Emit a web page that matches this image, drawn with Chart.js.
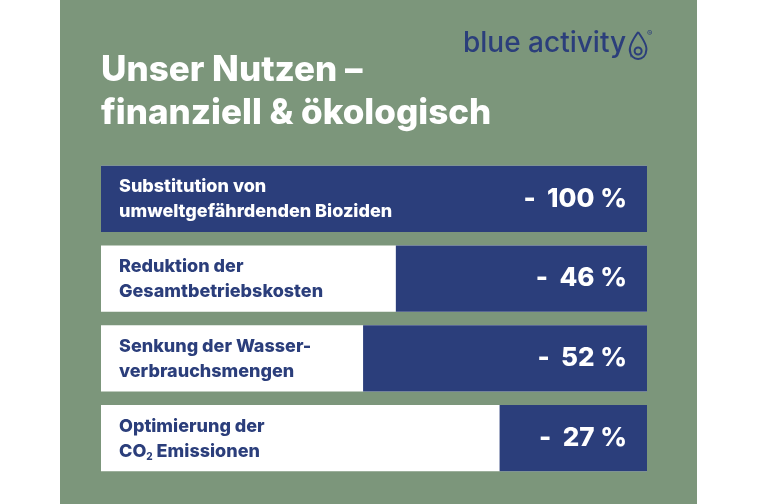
<!DOCTYPE html>
<html>
<head>
<meta charset="utf-8">
<script src="https://cdn.jsdelivr.net/npm/chart.js@4"></script>
<style>
  body { margin: 0; background: #fff; }
  #panel { position: absolute; left: 60px; top: 0; width: 637px; height: 504px; background: #7c967b; }
  #wrap { position: absolute; left: 0; top: 0; width: 760px; height: 504px; }
</style>
</head>
<body>
<div id="panel"></div>
<div id="wrap"><canvas id="chart" width="760" height="504"></canvas></div>
<script>
'use strict';

var categories = [
  ['Substitution von', 'umweltgefährdenden Bioziden'],
  ['Reduktion der', 'Gesamtbetriebskosten'],
  ['Senkung der Wasser-', 'verbrauchsmengen'],
  ['Optimierung der', 'CO2 Emissionen']
];
var values = [100, 46, 52, 27];
var valueLabels = ['-  100 %', '-  46 %', '-  52 %', '-  27 %'];
var fullValues = [100, 100, 100, 100];

var navy = '#2b3e7b';
var FONT = 'Inter, "Open Sans", sans-serif';

// draws titles, logo and text inside the bars
var textPlugin = {
  id: 'texts',
  afterDraw: function (chart) {
    var ctx = chart.ctx;
    var y = chart.scales.y;
    var x = chart.scales.x;
    ctx.save();
    ctx.fillStyle = '#fff';
    ctx.font = '800 35px ' + FONT;
    ctx.textBaseline = 'alphabetic';
    ctx.fillText('Unser Nutzen –', 101, 81);
    ctx.fillText('finanziell & ökologisch', 101, 124);

    ctx.fillStyle = navy;
    ctx.font = '500 28px ' + FONT;
    ctx.fillText('blue activity', 463, 52);
    // drop
    var dx = 463 + ctx.measureText('blue activity').width + 12;
    ctx.strokeStyle = navy;
    ctx.lineWidth = 2;
    ctx.beginPath();
    ctx.moveTo(dx, 32);
    ctx.quadraticCurveTo(dx - 10, 46, dx - 8, 52);
    ctx.arc(dx, 51, 8, Math.PI, 0, true);
    ctx.quadraticCurveTo(dx + 10, 46, dx, 32);
    ctx.stroke();
    ctx.beginPath();
    ctx.arc(dx, 51, 3.5, 0, Math.PI * 2);
    ctx.stroke();
    ctx.font = '8px ' + FONT;
    ctx.fillText('®', dx + 9, 36);

    for (var i = 0; i < categories.length; i++) {
      var cy = y.getPixelForValue(i);
      var f = '800 18px ' + FONT;
      ctx.fillStyle = i === 0 ? '#fff' : navy;
      ctx.font = f;
      ctx.textAlign = 'left';
      ctx.textBaseline = 'middle';
      ctx.fillText(categories[i][0], 119, cy - 12);
      var second = categories[i][1];
      if (second.indexOf('CO2') === 0) {
        ctx.fillText('CO', 119, cy + 13);
        var w = ctx.measureText('CO').width;
        ctx.font = '800 10px ' + FONT;
        ctx.fillText('2', 119 + w, cy + 19);
        var w2 = ctx.measureText('2').width;
        ctx.font = f;
        ctx.fillText(second.slice(3), 119 + w + w2, cy + 13);
      } else {
        ctx.fillText(second, 119, cy + 13);
      }
      ctx.fillStyle = '#fff';
      ctx.font = '800 26px ' + FONT;
      ctx.textAlign = 'right';
      ctx.fillText(valueLabels[i], x.getPixelForValue(0) - 20, cy);
    }
    ctx.restore();
  }
};

var ctx = document.getElementById('chart').getContext('2d');
var chart = new Chart(ctx, {
  type: 'bar',
  data: {
    labels: categories.map(function (c) { return c.join(' '); }),
    datasets: [
      { data: values, backgroundColor: navy, order: 1, barPercentage: 0.83, categoryPercentage: 1 },
      { data: fullValues, backgroundColor: '#fff', order: 2, barPercentage: 0.83, categoryPercentage: 1 }
    ]
  },
  options: {
    indexAxis: 'y',
    responsive: false,
    animation: false,
    layout: { padding: { left: 101, right: 113, top: 159, bottom: 26 } },
    plugins: { legend: { display: false }, tooltip: { enabled: false } },
    scales: {
      x: { min: 0, max: 100, reverse: true, display: false, grid: { display: false } },
      y: { stacked: true, display: false, grid: { display: false } }
    }
  },
  plugins: [textPlugin]
});
</script>
</body>
</html>
